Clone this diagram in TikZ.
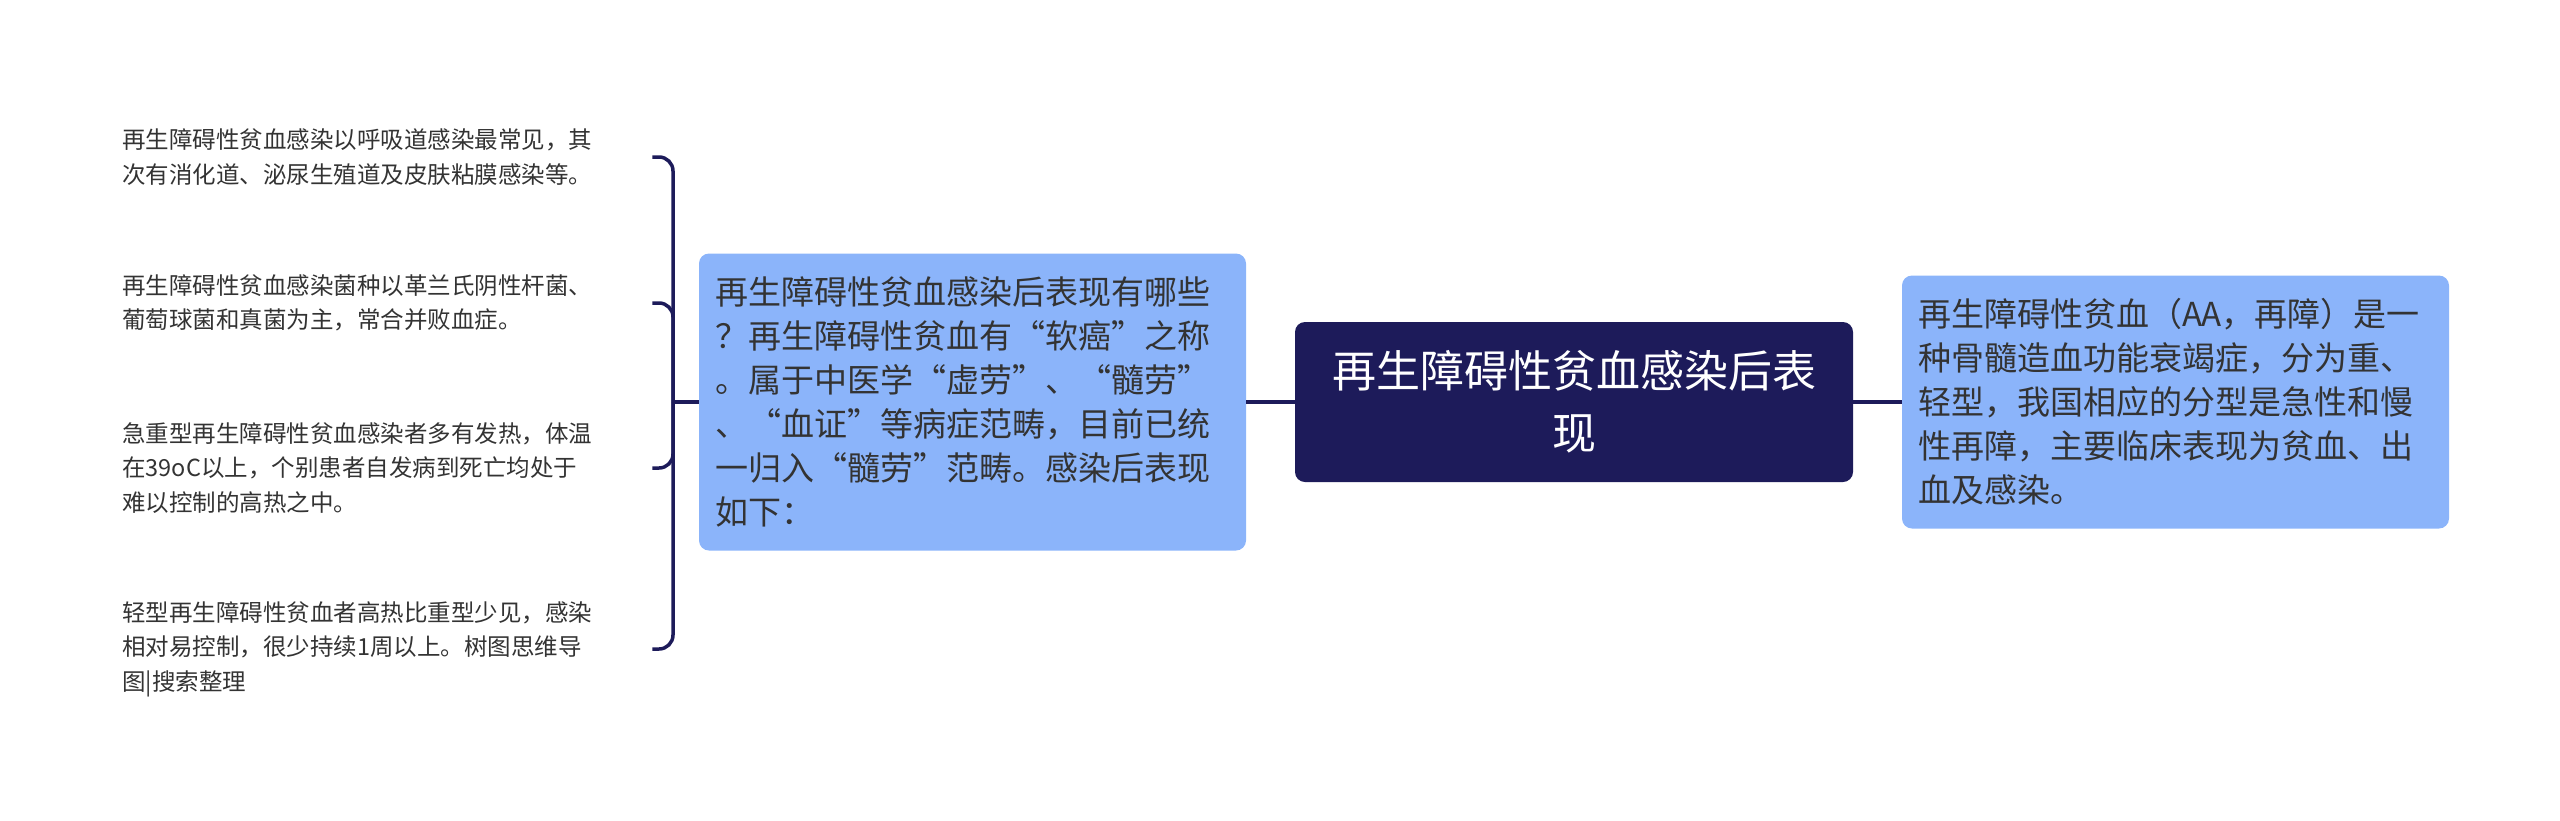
\documentclass[tikz,border=0pt]{standalone}
\usepackage{fontspec}
\setmainfont{Noto Sans CJK SC}
\usepackage{xcolor}
\usepackage{tikz}
\usetikzlibrary{positioning,calc}

\definecolor{navy}{HTML}{1D1B5A}
\definecolor{lightblue}{HTML}{8BB4FA}
\definecolor{txtgray}{HTML}{333333}

\begin{document}
\begin{tikzpicture}[x=1pt, y=1pt,
    link/.style={draw=navy, line width=3.5pt},
    rootbox/.style={fill=navy, rounded corners=10pt, text=white, align=center,
        text width=520pt, minimum width=558pt, minimum height=160pt, inner sep=0pt,
        font=\fontsize{44}{62}\selectfont},
    bluebox/.style={fill=lightblue, rounded corners=10pt, text=txtgray, align=left,
        text width=515pt, inner xsep=16pt, inner ysep=0pt, minimum width=547pt,
        font=\fontsize{33}{44}\selectfont},
    leaf/.style={anchor=west, text=txtgray, align=left, text width=530pt, inner sep=0pt,
        font=\fontsize{23.5}{34.5}\selectfont}]
    \useasboundingbox (0,0) rectangle (2560,-820);

    % main topic
    \node[rootbox] (root) at (1574,-402) {再生障碍性贫血感染后表\\现};

    % right: definition
    \node[bluebox, minimum height=253pt] (defn) at (2175.5,-402)
        {再生障碍性贫血（AA，再障）是一\\种骨髓造血功能衰竭症，分为重、\\轻型，我国相应的分型是急性和慢\\性再障，主要临床表现为贫血、出\\血及感染。};

    % left: question
    \node[bluebox, minimum height=297pt] (ques) at (972.5,-402)
        {再生障碍性贫血感染后表现有哪些\\？再生障碍性贫血有“软癌”之称\\。属于中医学“虚劳”、“髓劳”\\、“血证”等病症范畴，目前已统\\一归入“髓劳”范畴。感染后表现\\如下：};

    % details
    \node[leaf] (t1) at (122,-157) {再生障碍性贫血感染以呼吸道感染最常见，其\\次有消化道、泌尿生殖道及皮肤粘膜感染等。};
    \node[leaf] (t2) at (122,-303) {再生障碍性贫血感染菌种以革兰氏阴性杆菌、\\葡萄球菌和真菌为主，常合并败血症。};
    \node[leaf] (t3) at (122,-468) {急重型再生障碍性贫血感染者多有发热，体温\\在39oC以上，个别患者自发病到死亡均处于\\难以控制的高热之中。};
    \node[leaf] (t4) at (122,-649) {轻型再生障碍性贫血者高热比重型少见，感染\\相对易控制，很少持续1周以上。树图思维导\\图|搜索整理};

    \draw[link] (ques.east) -- (root.west);
    \draw[link] (root.east) -- (defn.west);

    \coordinate (jn) at (673,-402);
    \draw[link] (ques.west) -- (jn);
    \foreach \leafname in {t1,t2,t3,t4}
        \draw[link, rounded corners=14pt] (jn) |- (\leafname.east);
\end{tikzpicture}
\end{document}
